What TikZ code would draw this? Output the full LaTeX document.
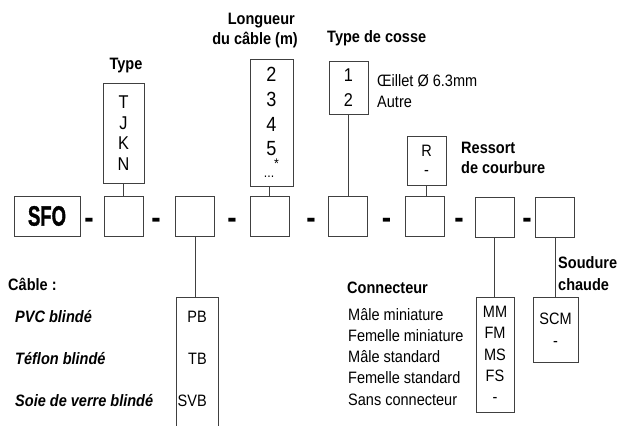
\documentclass[tikz,border=0pt]{standalone}
\usepackage{fontspec}
\setmainfont{Liberation Sans}[FakeStretch=0.88]
\newfontfamily\heavy{Liberation Sans}[UprightFont=* Bold,FakeStretch=0.66,FakeBold=1.2]
\usepackage{tikz}
\usetikzlibrary{positioning}

\begin{document}
\begin{tikzpicture}[x=1pt,y=-1pt,
  box/.style={draw=black!75,line width=0.9pt,minimum width=39pt,minimum height=40pt,inner sep=0pt},
  opt/.style={box,align=center,font=\fontsize{16.5}{21}\selectfont},
  head/.style={inner sep=0pt,font=\fontsize{16.5}{21}\selectfont\bfseries},
  txt/.style={inner sep=0pt,font=\fontsize{16.5}{21}\selectfont},
  sep/.style={inner sep=0pt,anchor=base,font=\fontsize{32}{32}\selectfont\bfseries},
  link/.style={draw=black!75,line width=0.9pt}]
\useasboundingbox (0,0) rectangle (620,425);

\node[box,minimum width=66pt] (sfo) at (47,216) {\fontsize{28}{28}\heavy SFO};
\node[box] (typ) at (123.5,216) {};
\node[box] (cab) at (195,216) {};
\node[box] (lon) at (269.5,216) {};
\node[box] (cos) at (348,216.5) {};
\node[box] (res) at (424.5,216.5) {};
\node[box] (con) at (494.5,217) {};
\node[box] (sou) at (555,217) {};
\foreach \x [count=\i] in {89,156,232,311,386.5,459,527}
  \node[sep] (d\i) at (\x,228.5) {-};

\node[opt,font=\fontsize{18.5}{20.7}\selectfont,minimum width=41pt,minimum height=100pt] (typ-opt) at (123.5,133) {T\\J\\K\\N};
\node[opt,font=\fontsize{20.5}{24.8}\selectfont,minimum width=43pt,minimum height=127pt] (lon-opt) at (271.5,122.5)
  {2\\3\\4\\5\\[-2.8pt]{\fontsize{14}{14}\selectfont...\raisebox{9pt}{*}}};
\node[opt,font=\fontsize{18.5}{25}\selectfont,minimum height=53pt] (cos-opt) at (348.5,87.5) {1\\2};
\node[opt,font=\fontsize{16.5}{18.5}\selectfont,minimum height=49pt] (res-opt) at (426.5,160.5) {R\\-};
\node[opt,font=\fontsize{16.5}{21.25}\selectfont,minimum width=38pt,minimum height=115pt] (con-opt) at (495,354.5) {MM\\FM\\MS\\FS\\-};
\node[opt,font=\fontsize{16.5}{22}\selectfont,minimum width=45pt,minimum height=65pt] (sou-opt) at (555.5,329.5) {SCM\\-};
\node[box,minimum width=42pt,minimum height=140pt,anchor=north] (cab-opt) at (197,297) {};
\foreach \c/\y [count=\i] in {PB/322,TB/364,SVB/406}
  \node[txt,anchor=base east] (cab-\i) at (207,\y) {\c};

\draw[link] (typ.north) -- (typ-opt.south);
\draw[link] (lon.north) -- (lon.north |- lon-opt.south);
\draw[link] (cos.north) -- (cos.north |- cos-opt.south);
\draw[link] (res-opt.south) -- (res-opt.south |- res.north);
\draw[link] (cab.south) -- (cab.south |- cab-opt.north);
\draw[link] (con.south) -- (con.south |- con-opt.north);
\draw[link] (sou.south) -- (sou.south |- sou-opt.north);

\node[head,anchor=base] (typ-h) at (126,70) {Type};
\node[head,anchor=base east] (lon-h1) at (295,25) {Longueur};
\node[head,anchor=base east] (lon-h2) at (298,45) {du câble (m)};
\node[head,anchor=base west] (cos-h) at (327,43) {Type de cosse};
\node[txt,anchor=base west] (cos-1) at (377,86.5) {Œillet Ø 6.3mm};
\node[txt,anchor=base west] (cos-2) at (377,107) {Autre};
\node[head,anchor=base west] (res-h1) at (461,153) {Ressort};
\node[head,anchor=base west] (res-h2) at (461,173) {de courbure};
\node[head,anchor=base west] (sou-h1) at (558,268) {Soudure};
\node[head,anchor=base west] (sou-h2) at (558,290) {chaude};

\node[head,anchor=base west] (cab-h) at (8,290) {Câble :};
\foreach \t/\y [count=\i] in {PVC blindé/322,Téflon blindé/364,Soie de verre blindé/406}
  \node[head,font=\fontsize{16.5}{21}\selectfont\bfseries\itshape,anchor=base west] (cab-l\i) at (15,\y) {\t};

\node[head,anchor=base west] (con-h) at (347,293) {Connecteur};
\foreach \t [count=\i] in {Mâle miniature,Femelle miniature,Mâle standard,Femelle standard,Sans connecteur}
  \node[txt,anchor=base west] (con-l\i) at (348,{320+21.25*(\i-1)}) {\t};
\end{tikzpicture}
\end{document}
